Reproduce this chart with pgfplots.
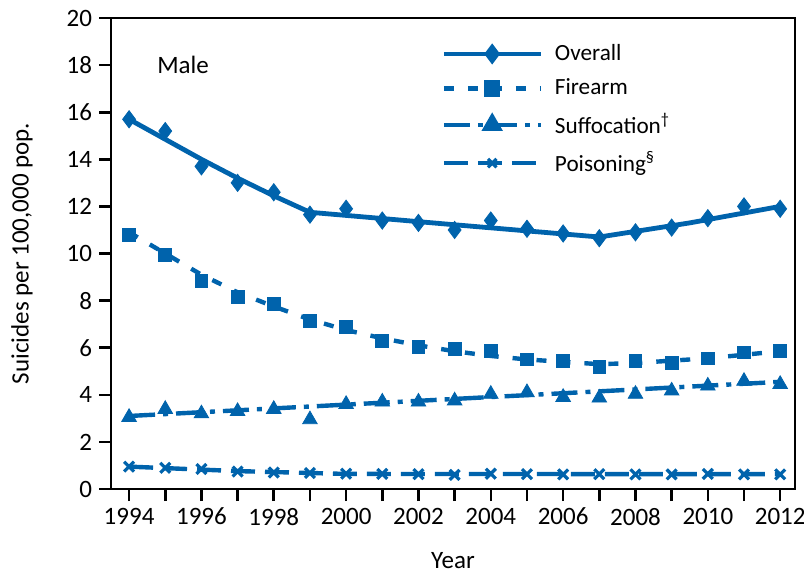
\documentclass[border=0pt]{standalone}
\usepackage{pgfplots}
\pgfplotsset{compat=1.18}
\usepackage{fontspec}
\setmainfont{Carlito}
\definecolor{cdcblue}{RGB}{0,99,172}
\begin{document}
\begin{tikzpicture}
\begin{axis}[
  scale only axis,
  width=342pt, height=235.5pt,
  xmin=1993.5, xmax=2012.41,
  ymin=0, ymax=20,
  ytick={0,2,...,20},
  xtick={1994,1996,...,2012},
  minor xtick={1995,1997,...,2011},
  tick align=outside,
  xtick pos=bottom, ytick pos=left,
  major tick length=6pt, minor tick length=6pt,
  every tick/.style={black, line width=1.3pt},
  every minor tick/.style={black, line width=1.3pt},
  axis line style={black, line width=1.3pt},
  /pgf/number format/1000 sep={},
  /pgf/number format/assume math mode=true,
  tick label style={font=\fontsize{12.5}{14}\selectfont},
  label style={font=\fontsize{12.5}{14}\selectfont},
  xlabel={Year},
  ylabel={Suicides per 100,000 pop.},
  xlabel style={at={(rel axis cs:0.5,0)}, anchor=center, yshift=-36pt},
  ylabel style={at={(rel axis cs:0,0.5)}, anchor=center, yshift=44.5pt},
  legend style={at={(rel axis cs:0.4825,1)}, anchor=north west, yshift=-11pt, draw=none, fill=none,
    inner sep=0pt, column sep=4pt,
    font=\fontsize{11.6}{14}\selectfont, row sep=3.7pt, cells={anchor=west}},
  legend image code/.code={\draw[mark repeat=2,mark phase=2,#1] plot coordinates {(0cm,0cm) (0.85cm,0cm) (1.7cm,0cm)};},
  legend cell align=left,
]
\coordinate (sw) at (rel axis cs:0,0);
\coordinate (ne) at (rel axis cs:1,1);
% Trend lines
\addplot[cdcblue, line width=2.4pt, forget plot] coordinates {
(1994,15.7)(1995,14.85)(1996,14.0)(1997,13.2)(1998,12.45)(1999,11.75)
(2003,11.22)(2007,10.7)(2009.5,11.3)(2012,12.0)};
\addplot[cdcblue, line width=2.2pt, dash pattern=on 5pt off 7pt, forget plot] coordinates {
(1994,10.9)(1995,10.0)(1996,9.1)(1997,8.35)(1998,7.75)(1999,7.2)(2000,6.75)(2001,6.4)(2002,6.1)(2003,5.85)(2004,5.65)(2005,5.5)(2006,5.4)(2007,5.3)(2008,5.35)(2009,5.45)(2010,5.55)(2011,5.7)(2012,5.85)};
\addplot[cdcblue, line width=2.2pt, dash pattern=on 13pt off 4pt on 2.5pt off 4pt, forget plot] coordinates {
(1994,3.1)(2012,4.55)};
\addplot[cdcblue, line width=2.2pt, dash pattern=on 12pt off 5pt, forget plot] coordinates {
(1994,0.95)(1997,0.76)(2000,0.64)(2012,0.63)};
% Markers
\addplot[cdcblue, only marks, mark=diamond*, mark size=4.3pt, forget plot] coordinates {
(1994,15.7)(1995,15.2)(1996,13.7)(1997,13.0)(1998,12.6)(1999,11.65)(2000,11.9)(2001,11.4)(2002,11.3)(2003,11.0)(2004,11.4)(2005,11.05)(2006,10.85)(2007,10.65)(2008,10.9)(2009,11.1)(2010,11.5)(2011,12.0)(2012,11.9)};
\addplot[cdcblue, only marks, mark=square*, mark size=3.2pt, forget plot] coordinates {
(1994,10.8)(1995,9.95)(1996,8.85)(1997,8.15)(1998,7.85)(1999,7.15)(2000,6.9)(2001,6.3)(2002,6.05)(2003,5.95)(2004,5.85)(2005,5.5)(2006,5.45)(2007,5.2)(2008,5.45)(2009,5.35)(2010,5.55)(2011,5.8)(2012,5.85)};
\addplot[cdcblue, only marks, mark=triangle*, mark size=4.2pt, forget plot] coordinates {
(1994,3.05)(1995,3.39)(1996,3.2)(1997,3.3)(1998,3.39)(1999,2.95)(2000,3.6)(2001,3.7)(2002,3.7)(2003,3.75)(2004,4.03)(2005,4.1)(2006,3.9)(2007,3.87)(2008,4.03)(2009,4.17)(2010,4.38)(2011,4.58)(2012,4.45)};
\addplot[cdcblue, only marks, mark=x, mark size=3.5pt, mark options={line width=1.6pt}, forget plot] coordinates {
(1994,0.95)(1995,0.9)(1996,0.85)(1997,0.74)(1998,0.7)(1999,0.68)(2000,0.65)(2001,0.64)(2002,0.63)(2003,0.6)(2004,0.65)(2005,0.63)(2006,0.62)(2007,0.63)(2008,0.62)(2009,0.62)(2010,0.64)(2011,0.62)(2012,0.62)};
% Legend
\addlegendimage{cdcblue, line width=2.4pt, mark=diamond*, mark size=3.3pt}
\addlegendentry{Overall}
\addlegendimage{cdcblue, line width=2.2pt, dash pattern=on 5pt off 7pt, mark=square*, mark size=3pt, mark options={solid}}
\addlegendentry{Firearm}
\addlegendimage{cdcblue, line width=2.2pt, dash pattern=on 13pt off 4pt on 2.5pt off 4pt, mark=triangle*, mark size=4pt, mark options={solid}}
\addlegendentry{Suffocation\textsuperscript{†}}
\addlegendimage{cdcblue, line width=2.2pt, dash pattern=on 12pt off 5pt, mark=x, mark size=3pt, mark options={solid, line width=1.6pt}}
\addlegendentry{Poisoning\textsuperscript{§}}
\node[font=\fontsize{12.5}{14}\selectfont, anchor=base west, inner sep=0pt] at (axis cs:1994.77,17.66) {Male};
\end{axis}
\pgfresetboundingbox
\path ([shift={(-55.5pt,-42.5pt)}]sw) rectangle ([shift={(4.5pt,9pt)}]ne);
\end{tikzpicture}
\end{document}
